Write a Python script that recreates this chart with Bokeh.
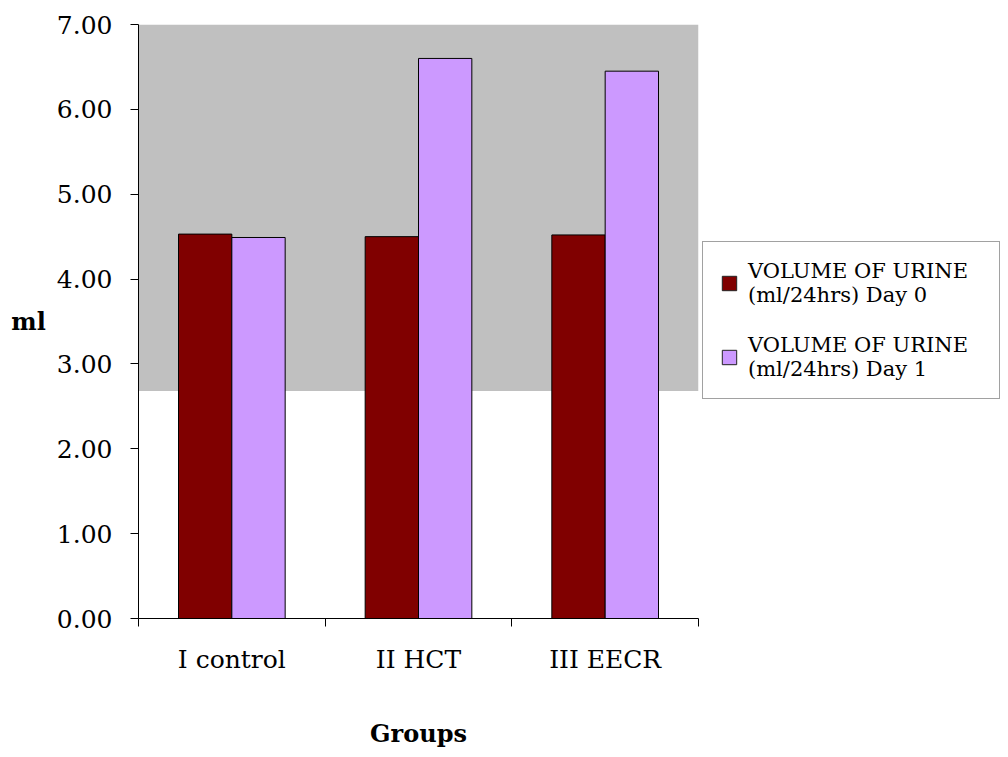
from bokeh.plotting import figure
from bokeh.layouts import row
from bokeh.models import (Range1d, FixedTicker, PrintfTickFormatter, BoxAnnotation,
                          Legend, LegendItem)
from bokeh.embed import file_html
from bokeh.resources import INLINE

# ---- data ----
categories = ["I control", "II HCT", "III EECR"]
day0 = [4.53, 4.50, 4.52]
day1 = [4.49, 6.60, 6.45]
series_names = ["VOLUME OF URINE\n(ml/24hrs) Day 0",
                "VOLUME OF URINE\n(ml/24hrs) Day 1"]
y_ticks = [0, 1, 2, 3, 4, 5, 6, 7]
shade_bottom = 2.68
colors = ["#800000", "#CC99FF"]

FONT = "DejaVu Serif"

H = 750
W1 = 700
BT, BB = 24, H - 619
p = figure(width=W1, height=H, output_backend="svg", toolbar_location=None,
           x_range=Range1d(0, len(categories)), y_range=Range1d(0, 7),
           min_border_left=138, min_border_right=W1 - 698,
           min_border_top=BT, min_border_bottom=BB)
p.xgrid.visible = False
p.ygrid.visible = False
p.outline_line_color = None
p.background_fill_color = "white"
p.border_fill_color = "white"

p.add_layout(BoxAnnotation(bottom=shade_bottom, fill_color="#C0C0C0", fill_alpha=1.0,
                           line_color=None, level="underlay"))

bw = 1 / 3.5
centers = [i + 0.5 for i in range(len(categories))]
x0 = [c - bw / 2 for c in centers]
x1 = [c + bw / 2 for c in centers]
p.vbar(x=x0, top=day0, width=bw, bottom=0,
       fill_color=colors[0], line_color="black", line_width=1)
p.vbar(x=x1, top=day1, width=bw, bottom=0,
       fill_color=colors[1], line_color="black", line_width=1)

# x axis
xa = p.xaxis[0]
xa.ticker = FixedTicker(ticks=centers, minor_ticks=list(range(len(categories) + 1)))
xa.major_label_overrides = {c: name for c, name in zip(centers, categories)}
xa.major_tick_line_color = None
xa.major_tick_in = 0
xa.major_tick_out = 0
xa.minor_tick_in = 0
xa.minor_tick_out = 8
xa.minor_tick_line_color = "black"
xa.axis_line_color = "black"
xa.major_label_text_font = FONT
xa.major_label_text_font_size = "25px"
xa.major_label_text_color = "black"
xa.major_label_standoff = 18
xa.axis_label = "Groups"
xa.axis_label_text_font = FONT
xa.axis_label_text_font_style = "bold"
xa.axis_label_text_font_size = "24px"
xa.axis_label_text_color = "black"
xa.axis_label_standoff = 42

# y axis
ya = p.yaxis[0]
ya.ticker = FixedTicker(ticks=y_ticks)
ya.formatter = PrintfTickFormatter(format="%.2f")
ya.minor_tick_line_color = None
ya.major_tick_in = 0
ya.major_tick_out = 8
ya.major_tick_line_color = "black"
ya.axis_line_color = "black"
ya.major_label_text_font = FONT
ya.major_label_text_font_size = "25px"
ya.major_label_text_color = "black"
ya.major_label_standoff = 18
ya.axis_label = "ml"
ya.axis_label_orientation = "horizontal"
ya.axis_label_text_font = FONT
ya.axis_label_text_font_style = "bold"
ya.axis_label_text_font_size = "24px"
ya.axis_label_text_color = "black"
ya.axis_label_standoff = 8

# ---- legend panel (separate figure to the right, same frame height) ----
W2 = 300
q = figure(width=W2, height=H, output_backend="svg", toolbar_location=None,
           x_range=Range1d(0, len(categories)), y_range=Range1d(0, 7),
           x_axis_location=None, y_axis_location=None,
           min_border_left=2, min_border_right=0, min_border_top=BT, min_border_bottom=BB)
q.xgrid.visible = False
q.ygrid.visible = False
q.outline_line_color = None
q.background_fill_color = "white"
q.border_fill_color = "white"
# same series (hidden), only to feed the legend swatches
l0 = q.vbar(x=x0, top=day0, width=bw, bottom=0, visible=False,
            fill_color=colors[0], line_color="#222222", line_width=1)
l1 = q.vbar(x=x1, top=day1, width=bw, bottom=0, visible=False,
            fill_color=colors[1], line_color="#222222", line_width=1)

legend = Legend(items=[LegendItem(label=series_names[0], renderers=[l0]),
                       LegendItem(label=series_names[1], renderers=[l1])],
                location=(0, 219), orientation="vertical",
                border_line_color="#444444", border_line_width=1,
                background_fill_color="white", background_fill_alpha=1.0,
                label_text_font=FONT, label_text_font_size="21px",
                label_text_color="black", label_text_line_height=1.0,
                glyph_width=18, glyph_height=18, label_standoff=10,
                padding=17, spacing=26, margin=0, label_width=234)
q.add_layout(legend)

open("out.html", "w").write(file_html(row(p, q), INLINE))
